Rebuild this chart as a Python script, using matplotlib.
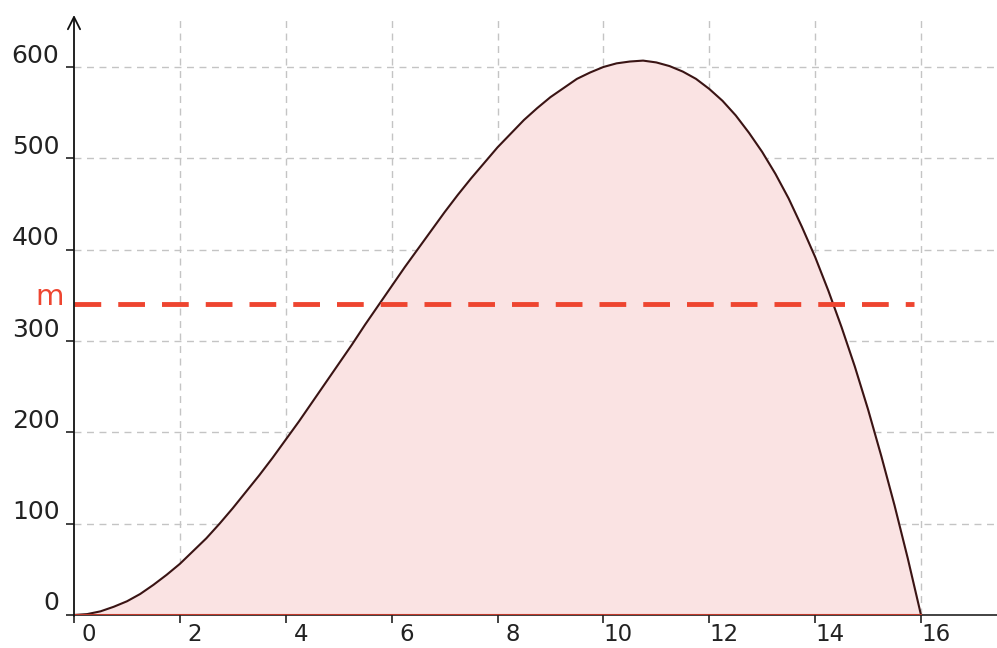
import matplotlib
matplotlib.use('Agg')
from matplotlib import pyplot as plt
from matplotlib.transforms import ScaledTranslation

# curve (step 0.25)
x_vals = [i * 0.25 for i in range(65)]
y_vals = [0, 1, 4, 9, 15, 23, 33, 44, 56, 70, 84, 100, 117, 135, 153, 172,
          192, 212, 233, 254, 275, 296, 318, 339, 360, 381, 401, 421, 441,
          460, 478, 495, 512, 527, 542, 555, 567, 577, 587, 594, 600, 604,
          606, 607, 605, 601, 595, 587, 576, 563, 547, 528, 507, 483, 456,
          425, 392, 355, 315, 272, 225, 174, 120, 62, 0]
mean_level = 341
x_ticks = [0, 2, 4, 6, 8, 10, 12, 14, 16]
y_ticks = [0, 100, 200, 300, 400, 500, 600]

W, H = 997, 648
fig = plt.figure(figsize=(W / 100, H / 100), dpi=100)
x0, x1 = 74, 997
y0, ytop = 615, 15
ax = fig.add_axes([x0 / W, (H - y0) / H, (x1 - x0) / W, (y0 - ytop) / H])
px_x = (921 - 74) / 16
px_y = (615 - 67) / 600
ax.set_xlim(0, (x1 - x0) / px_x)
ax.set_ylim(0, (y0 - ytop) / px_y)

for s in ['top', 'right', 'left']:
    ax.spines[s].set_visible(False)
ax.spines['bottom'].set_color('#222222')
ax.spines['bottom'].set_linewidth(1.2)

# grid
for gx in x_ticks[1:]:
    ax.axvline(gx, color='#c4c4c4', lw=1, ls=(0, (5, 4)), zorder=0)
for gy in y_ticks[1:]:
    ax.axhline(gy, color='#c4c4c4', lw=1, ls=(0, (5, 4)), zorder=0)

ax.fill_between(x_vals, y_vals, 0, color='#fae3e3', zorder=1)
ax.plot(x_vals, y_vals, color='#3a1414', lw=1.5, zorder=3,
        solid_joinstyle='round')
ax.plot([0, 16], [0, 0], color='#c0392b', lw=1.5, zorder=3)
ax.plot([0, 15.86], [mean_level, mean_level], color='#ee4530', lw=3.5,
        ls=(0, (5.5, 3.5)), zorder=4)

# y axis with open arrow
ax.annotate('', xy=(0, ax.get_ylim()[1]), xytext=(0, -1),
            arrowprops=dict(arrowstyle='->', color='#111111', lw=1.3,
                            mutation_scale=22, shrinkA=0, shrinkB=0),
            annotation_clip=False, zorder=5)

ax.text(-0.19, mean_level - 2, 'm', color='#ee4530', fontsize=21,
        ha='right', va='baseline')

ax.set_xticks(x_ticks)
ax.set_yticks(y_ticks)
ax.set_xticklabels([str(v) for v in x_ticks])
ax.set_yticklabels([str(v) for v in y_ticks])
ax.tick_params(axis='both', direction='out', length=6, width=1.2,
               color='#222222', labelcolor='#222222')
ax.tick_params(axis='x', pad=0, labelsize=16.5)
ax.tick_params(axis='y', pad=4.5, labelsize=18)

for lab in ax.get_xticklabels():
    lab.set_transform(lab.get_transform() + ScaledTranslation(15 / 100, 0, fig.dpi_scale_trans))
for lab in ax.get_yticklabels():
    lab.set_transform(lab.get_transform() + ScaledTranslation(0, 14 / 100, fig.dpi_scale_trans))

fig.savefig('out.png', dpi=100, facecolor='white')
